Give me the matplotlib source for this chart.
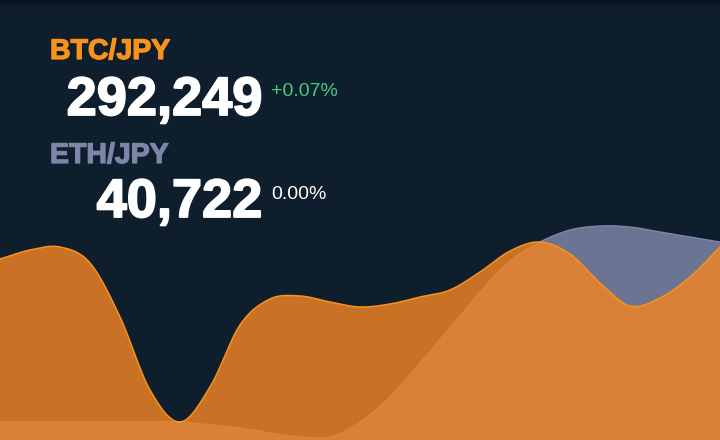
import numpy as np
import matplotlib.pyplot as plt
from matplotlib.colors import LinearSegmentedColormap
import matplotlib.patheffects as pe

# ==========================================
# Data
# ==========================================
t = np.arange(25)  # time steps

btc_prices = [292225, 292243, 292249, 292217, 292109, 291963, 291899, 291969,
              292093, 292145, 292151, 292139, 292129, 292135, 292149, 292163,
              292199, 292241, 292259, 292235, 292177, 292131, 292147, 292189,
              292249]
eth_prices = [40686.0, 40686.0, 40686.0, 40686.0, 40686.0, 40686.0, 40686.0,
              40685.4, 40684.8, 40683.8, 40683.0, 40683.0, 40686.0, 40691.0,
              40697.8, 40704.8, 40712.0, 40718.2, 40722.0, 40724.4, 40725.2,
              40725.0, 40724.0, 40723.0, 40722.0]

pairs = ['BTC/JPY', 'ETH/JPY']
last_prices = ['292,249', '40,722']
changes = ['+0.07%', '0.00%']

BG = '#0f1e2d'
BTC_LINE = '#f7931a'
BTC_FILL = '#f08424'
ETH_FILL = '#6b7493'
ETH_LINE = '#7c86a6'
ETH_TEXT = '#7b86a8'
GREEN = '#3fcf80'


def smooth(x, y, n=24):
    # catmull-rom spline through the points
    x = np.asarray(x, float)
    y = np.asarray(y, float)
    px = np.concatenate([[2 * x[0] - x[1]], x, [2 * x[-1] - x[-2]]])
    py = np.concatenate([[2 * y[0] - y[1]], y, [2 * y[-1] - y[-2]]])
    xs, ys = [], []
    s = np.linspace(0, 1, n, endpoint=False)
    for i in range(1, len(px) - 2):
        for arr, out in ((px, xs), (py, ys)):
            p0, p1, p2, p3 = arr[i - 1], arr[i], arr[i + 1], arr[i + 2]
            out.append(0.5 * ((2 * p1) + (-p0 + p2) * s
                              + (2 * p0 - 5 * p1 + 4 * p2 - p3) * s ** 2
                              + (-p0 + 3 * p1 - 3 * p2 + p3) * s ** 3))
    xs.append([x[-1]])
    ys.append([y[-1]])
    return np.concatenate(xs), np.concatenate(ys)


fig = plt.figure(figsize=(7.2, 4.4), dpi=100)
fig.patch.set_facecolor(BG)

ax_eth = fig.add_axes([0, 0, 1, 1])
ax_btc = ax_eth.twinx()
ax_eth.set_facecolor(BG)
ax_btc.patch.set_visible(False)

# ETH area (behind)
ex, ey = smooth(t, eth_prices)
ax_eth.fill_between(ex, ey, 0, color=ETH_FILL, lw=0)
ax_eth.plot(ex, ey, color=ETH_LINE, lw=1)
ax_eth.set_ylim(40682.4, 40770.4)

# BTC area (front, semi transparent)
bx, by = smooth(t, btc_prices)
ax_btc.fill_between(bx, by, 0, color=BTC_FILL, alpha=0.83, lw=0)
ax_btc.plot(bx, by, color=BTC_LINE, lw=1.1)
ax_btc.set_ylim(291863, 292743)

for a in (ax_eth, ax_btc):
    a.set_xlim(t[0], t[-1])
    a.axis('off')

# slight shade at the very top
grad = np.linspace(1, 0, 50).reshape(-1, 1)
ax_top = fig.add_axes([0, 1 - 8 / 440, 1, 8 / 440])
ax_top.imshow(grad, aspect='auto', extent=[0, 1, 0, 1],
              cmap=LinearSegmentedColormap.from_list('sh', [BG, '#0b131c']))
ax_top.axis('off')

# ==========================================
# Ticker text
# ==========================================
def px(x, y):
    return x / 720, 1 - y / 440

heavy = dict(family=['Liberation Sans', 'DejaVu Sans'], fontweight='bold')
light = dict(family=['Liberation Sans', 'DejaVu Sans'], fontweight='normal')


def bold_text(x, y, s, color, size, ha, stroke):
    txt = fig.text(*px(x, y), s, color=color, fontsize=size, va='baseline', ha=ha, **heavy)
    txt.set_path_effects([pe.withStroke(linewidth=stroke, foreground=color)])
    return txt


bold_text(50, 59, pairs[0], BTC_LINE, 20.5, 'left', 0.9)
bold_text(262, 115, last_prices[0], 'white', 39, 'right', 1.3)
fig.text(*px(271, 96), changes[0], color=GREEN, fontsize=14, va='baseline', ha='left', **light)

bold_text(50, 163, pairs[1], ETH_TEXT, 20.5, 'left', 0.9)
bold_text(262, 217, last_prices[1], 'white', 39, 'right', 1.3)
fig.text(*px(271, 199), changes[1], color='white', fontsize=14, va='baseline', ha='left', **light)

fig.savefig('out.png', dpi=100, facecolor=BG)
